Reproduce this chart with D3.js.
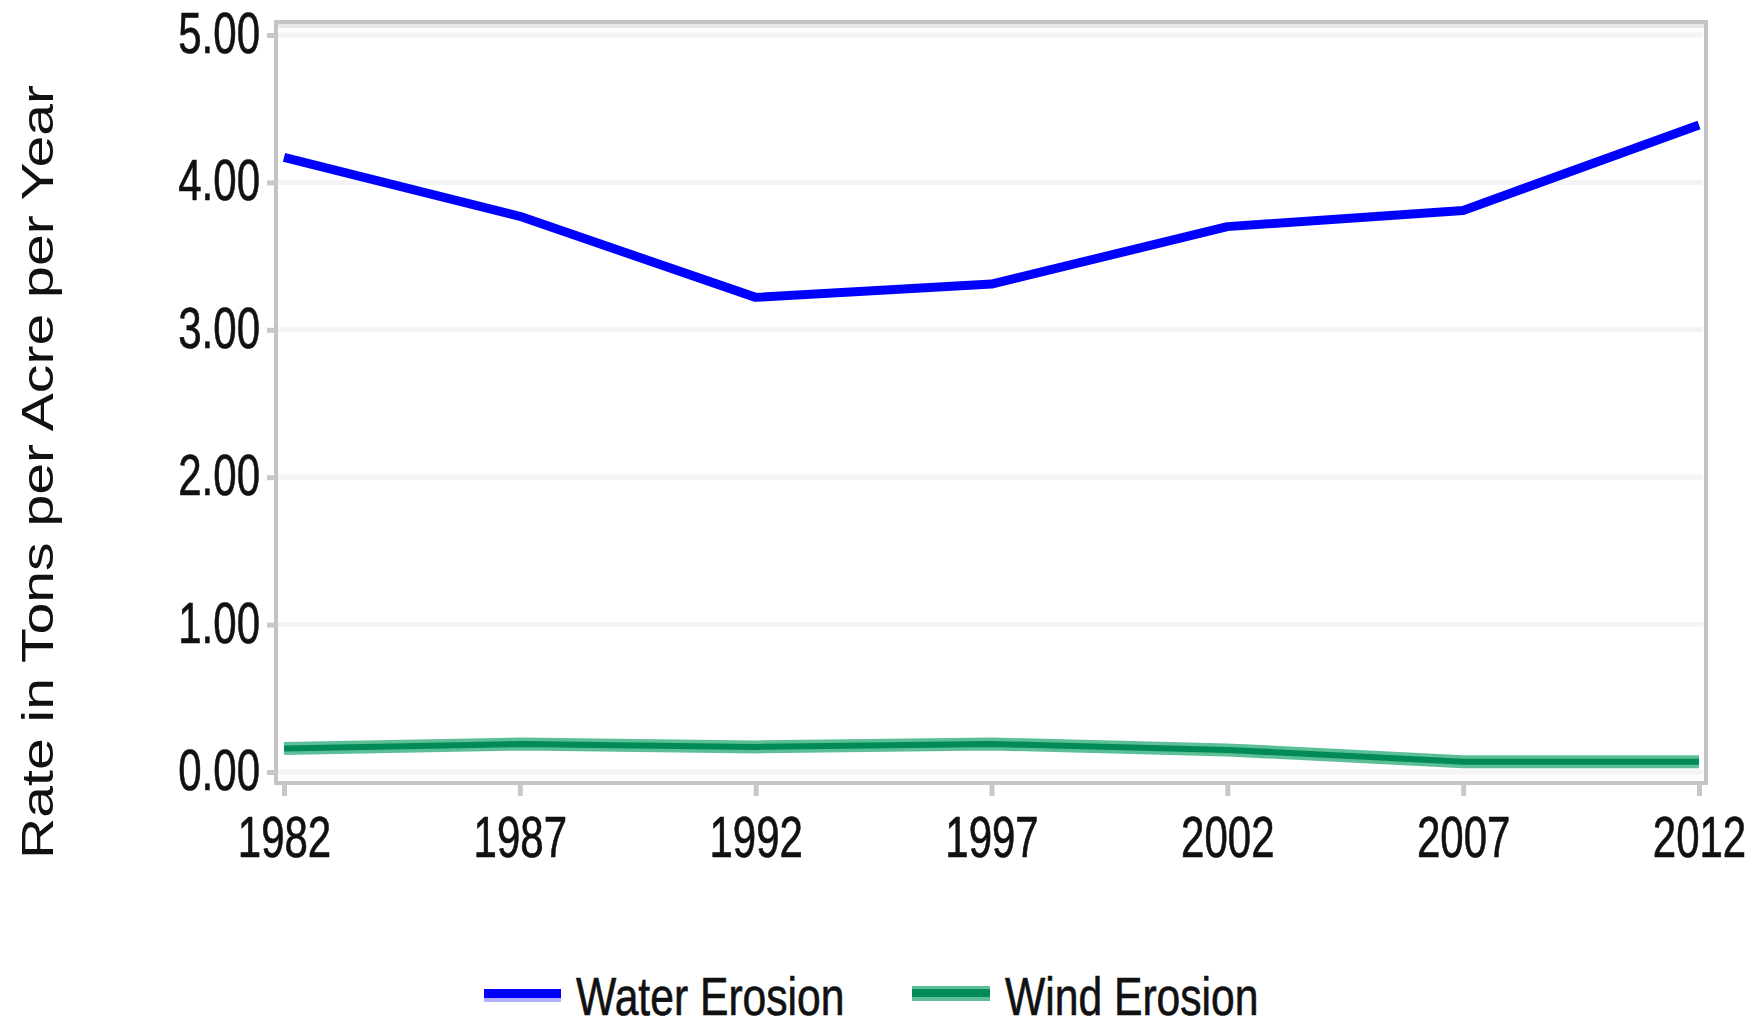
<!DOCTYPE html>
<html>
<head>
<meta charset="utf-8">
<script src="https://cdn.jsdelivr.net/npm/d3@7"></script>
<style>
  html, body { margin: 0; padding: 0; background: #ffffff; }
  svg { display: block; }
  text { font-family: "Liberation Sans", Arial, sans-serif; fill: #111; }
</style>
</head>
<body>
<svg id="chart" width="1752" height="1027"></svg>
<script>
// ---- data ----
const years = [1982, 1987, 1992, 1997, 2002, 2007, 2012];
const waterErosion = [4.17, 3.77, 3.22, 3.31, 3.70, 3.81, 4.39];
const windErosion  = [0.16, 0.19, 0.17, 0.19, 0.15, 0.07, 0.07];
const yTickValues = [0, 1, 2, 3, 4, 5];
const yTickLabels = ["0.00", "1.00", "2.00", "3.00", "4.00", "5.00"];
const xTickLabels = ["1982", "1987", "1992", "1997", "2002", "2007", "2012"];
const seriesNames = ["Water Erosion", "Wind Erosion"];
const yAxisTitle = "Rate in Tons per Acre per Year";

// ---- layout ----
const svg = d3.select("#chart");
const frame = { left: 276, top: 22, right: 1706, bottom: 783 };
const x = d3.scaleLinear().domain([1982, 2012]).range([284, 1699]);
const y = d3.scaleLinear().domain([0, 5]).range([772, 35]);
const stretch = 1.38;   // vertical stretch of the reference's text
const fontSize = 42;

// gridlines
svg.append("g").selectAll("line").data(yTickValues).join("line")
  .attr("x1", frame.left + 2).attr("x2", frame.right - 3)
  .attr("y1", d => y(d)).attr("y2", d => y(d))
  .attr("stroke", "#f4f4f4").attr("stroke-width", 5);

// frame
svg.append("rect")
  .attr("x", frame.left).attr("y", frame.top)
  .attr("width", frame.right - frame.left).attr("height", frame.bottom - frame.top)
  .attr("fill", "none").attr("stroke", "#c4c4c4").attr("stroke-width", 4);
svg.append("line")
  .attr("x1", frame.left + 2).attr("x2", frame.right - 2)
  .attr("y1", frame.top + 4).attr("y2", frame.top + 4)
  .attr("stroke", "#e8e8e8").attr("stroke-width", 4);

// x axis
const xAxis = svg.append("g")
  .attr("transform", `translate(0,${frame.bottom})`)
  .call(d3.axisBottom(x).tickValues(years)
        .tickFormat((d, i) => xTickLabels[i]).tickSize(13).tickSizeOuter(0));
xAxis.select(".domain").remove();
xAxis.selectAll(".tick line").attr("stroke", "#c8c8c8").attr("stroke-width", 5);
xAxis.selectAll(".tick text")
  .attr("y", 0).attr("dy", 0)
  .attr("font-size", fontSize)
  .attr("fill", "#111").attr("stroke", "#111").attr("stroke-width", 0.5)
  .attr("transform", `translate(0,${857 - frame.bottom}) scale(1,${stretch})`);

// y axis
const yAxis = svg.append("g")
  .attr("transform", `translate(${frame.left},0)`)
  .call(d3.axisLeft(y).tickValues(yTickValues)
        .tickFormat((d, i) => yTickLabels[i]).tickSize(9).tickSizeOuter(0));
yAxis.select(".domain").remove();
yAxis.selectAll(".tick line").attr("stroke", "#c8c8c8").attr("stroke-width", 5);
yAxis.selectAll(".tick text")
  .attr("x", 0).attr("dy", 0).attr("y", 0)
  .attr("font-size", fontSize)
  .attr("fill", "#111").attr("stroke", "#111").attr("stroke-width", 0.5)
  .attr("text-anchor", "end")
  .attr("transform", `translate(${260 - frame.left},17.5) scale(1,${stretch})`);

// y axis title
svg.append("text")
  .attr("transform", `translate(53,472) rotate(-90) scale(1.27,1)`)
  .attr("text-anchor", "middle")
  .attr("font-size", 45)
  .text(yAxisTitle);

// lines
const line = d3.line().x((d, i) => x(years[i])).y(d => y(d));
const plot = svg.append("g");
// wind erosion: light fringe + dark core
plot.append("path").datum(windErosion)
  .attr("d", line).attr("fill", "none")
  .attr("stroke", "#5cbf98").attr("stroke-width", 13).attr("stroke-linejoin", "round");
plot.append("path").datum(windErosion)
  .attr("d", line).attr("fill", "none")
  .attr("stroke", "#008a55").attr("stroke-width", 6).attr("stroke-linejoin", "round");
// water erosion
plot.append("path").datum(waterErosion)
  .attr("d", line).attr("fill", "none")
  .attr("stroke", "#0000ff").attr("stroke-width", 9).attr("stroke-linejoin", "round");

// legend
const legend = svg.append("g");
const legendItems = [
  { name: seriesNames[0], sx: 484, tx: 576 },
  { name: seriesNames[1], sx: 912, tx: 1005 }
];
// water swatch
legend.append("rect").attr("x", legendItems[0].sx).attr("y", 989)
  .attr("width", 77).attr("height", 9).attr("fill", "#0000ff");
legend.append("rect").attr("x", legendItems[0].sx).attr("y", 998)
  .attr("width", 77).attr("height", 4).attr("fill", "#b0b0ff");
// wind swatch
legend.append("rect").attr("x", legendItems[1].sx).attr("y", 986)
  .attr("width", 78).attr("height", 15).attr("fill", "#5cbf98");
legend.append("rect").attr("x", legendItems[1].sx).attr("y", 989)
  .attr("width", 78).attr("height", 8).attr("fill", "#008a55");
legend.selectAll("text").data(legendItems).join("text")
  .attr("transform", d => `translate(${d.tx},1015) scale(1.04,1.3)`)
  .attr("font-size", 41)
  .attr("stroke", "#111").attr("stroke-width", 0.5)
  .text(d => d.name);
</script>
</body>
</html>
